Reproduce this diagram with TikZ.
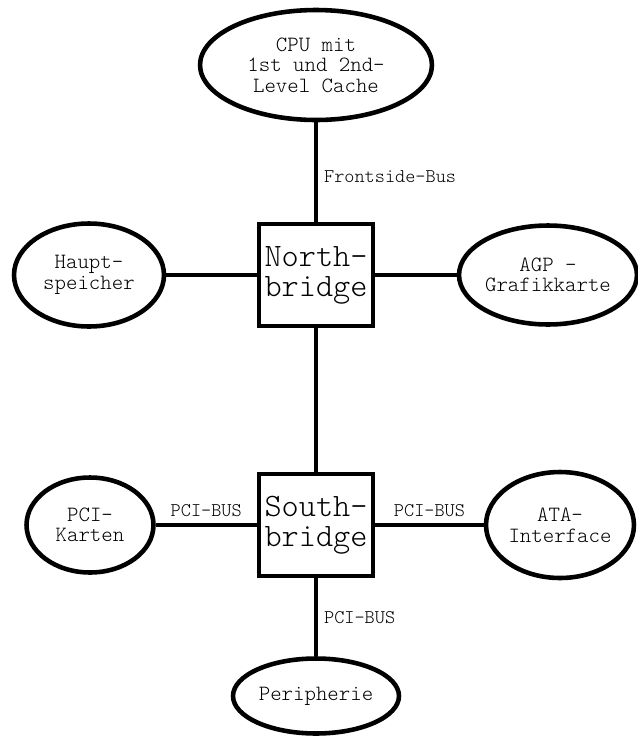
\documentclass[tikz,border=0pt]{standalone}
\usepackage{fontspec}
\setmonofont{Latin Modern Mono Light}
\usetikzlibrary{shapes.geometric}

\begin{document}
\begin{tikzpicture}[x=0.02cm, y=-0.02cm]
        \tikzset{
            teil/.style={
                draw,
                ellipse,
                line width=2.6pt,
                inner sep=0pt,
                align=center,
                font=\ttfamily\fontsize{12.4}{11.7}\selectfont
            },
            bruecke/.style={
                draw,
                rectangle,
                line width=2.6pt,
                inner sep=0pt,
                minimum width=2.28cm,
                minimum height=2.04cm,
                align=center,
                font=\ttfamily\fontsize{18.6}{17}\selectfont
            },
            bus/.style={line width=2.6pt},
            buslabel/.style={font=\ttfamily\fontsize{11}{12}\selectfont}
        }
        \useasboundingbox (0,0) rectangle (637,738);

        %bruecken
        \node[bruecke] (north) at (316,275) {North-\\bridge};
        \node[bruecke] (south) at (316,525) {South-\\bridge};

        %bausteine
        \node[teil, minimum width=4.64cm, minimum height=2.2cm] (cpu) at (316,65) {CPU mit\\1st und 2nd-\\Level Cache};
        \node[teil, minimum width=3cm, minimum height=2.06cm] (haupt) at (89,275) {Haupt-\\speicher};
        \node[teil, minimum width=3.4cm, minimum height=1.98cm] (agp) at (548,275) {AGP -\\Grafikkarte};
        \node[teil, minimum width=2.54cm, minimum height=1.9cm] (pci) at (90,525) {PCI-\\Karten};
        \node[teil, minimum width=2.96cm, minimum height=2.12cm] (ata) at (560,525) {ATA-\\Interface};
        \node[teil, minimum width=3.32cm, minimum height=1.5cm] (peri) at (316,696) {Peripherie};

        %busse
        \draw[bus] (cpu) -- node[buslabel, right, pos=0.55] {Frontside-Bus} (north);
        \draw[bus] (haupt) -- (north);
        \draw[bus] (north) -- (agp);
        \draw[bus] (north) -- (south);
        \draw[bus] (pci) -- node[buslabel, above] {PCI-BUS} (south);
        \draw[bus] (south) -- node[buslabel, above] {PCI-BUS} (ata);
        \draw[bus] (south) -- node[buslabel, right] {PCI-BUS} (peri);

\end{tikzpicture}
\end{document}
